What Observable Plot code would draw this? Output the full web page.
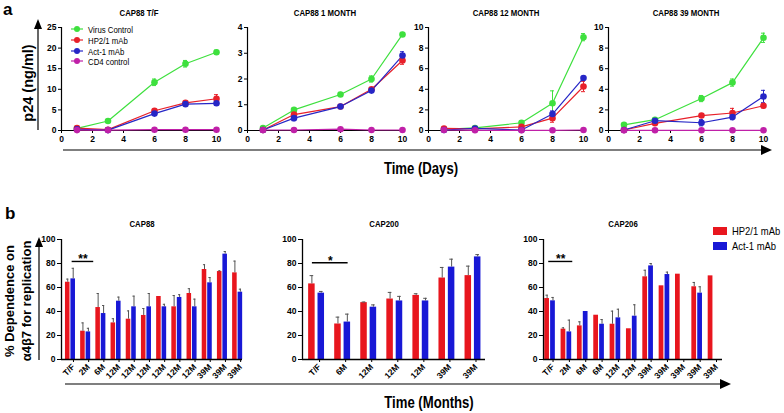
<!DOCTYPE html>
<html><head><meta charset="utf-8">
<script src="https://cdn.jsdelivr.net/npm/d3@7"></script>
<script src="https://cdn.jsdelivr.net/npm/@observablehq/plot@0.6"></script>
<style>
body{margin:0;background:#fff;}
#root{position:relative;width:784px;height:413px;overflow:hidden;background:#fff;}
.t{position:absolute;white-space:nowrap;color:#000;line-height:1;}
</style></head>
<body><div id="root"></div>
<script>
// ---------- data: panel a (p24 ng/ml vs days) ----------
const days = [1, 3, 6, 8, 10];
const dayTicks = [0, 2, 4, 6, 8, 10];
const seriesNames = ["Virus Control", "HP2/1 mAb", "Act-1 mAb", "CD4 control"];
const panelTitles = ["CAP88 T/F", "CAP88 1 MONTH", "CAP88 12 MONTH", "CAP88 39 MONTH"];
const panelYMax = [25, 4, 10, 10];
const panelYTicks = [[0, 5, 10, 15, 20, 25], [0, 1, 2, 3, 4], [0, 2, 4, 6, 8, 10], [0, 2, 4, 6, 8, 10]];

const p24TF = [[0.5, 2.3, 11.7, 16.2, 19.0], [0.6, 0.2, 4.8, 6.7, 7.7], [0.3, 0.1, 4.1, 6.4, 6.6], [0.1, 0.1, 0.2, 0.2, 0.2]];
const p24TFErr = [[0.1, 0.3, 0.8, 0.8, 0.5], [0.2, 0.1, 0.3, 0.3, 1.0], [0.1, 0.1, 0.3, 0.3, 0.5], [0.05, 0.05, 0.05, 0.05, 0.05]];
const p24M1 = [[0.1, 0.8, 1.4, 2.0, 3.73], [0.02, 0.62, 0.93, 1.6, 2.72], [0.02, 0.48, 0.93, 1.55, 2.91], [0.02, 0.02, 0.05, 0.02, 0.02]];
const p24M1Err = [[0.03, 0.06, 0.08, 0.12, 0.08], [0.02, 0.05, 0.03, 0.05, 0.15], [0.02, 0.1, 0.03, 0.05, 0.15], [0.01, 0.01, 0.02, 0.01, 0.01]];
const p24M12 = [[0.1, 0.25, 0.75, 2.65, 9.06], [0.2, 0.15, 0.35, 1.2, 4.27], [0.05, 0.2, 0.05, 1.6, 5.1], [0.05, 0.02, 0.02, 0.02, 0.05]];
const p24M12Err = [[0.1, 0.1, 0.1, 1.2, 0.35], [0.1, 0.05, 0.1, 0.4, 0.5], [0.05, 0.05, 0.05, 0.3, 0.15], [0.02, 0.02, 0.02, 0.02, 0.02]];
const p24M39 = [[0.55, 1.05, 3.1, 4.65, 9.0], [0.05, 0.7, 1.45, 1.7, 2.4], [0.05, 0.95, 0.75, 1.3, 3.3], [0.02, 0.02, 0.02, 0.02, 0.02]];
const p24M39Err = [[0.1, 0.1, 0.3, 0.35, 0.45], [0.05, 0.1, 0.1, 0.45, 0.2], [0.05, 0.1, 0.3, 0.25, 0.6], [0.02, 0.02, 0.02, 0.02, 0.02]];

// ---------- data: panel b (% dependence on a4b7) ----------
const mabNames = ["HP2/1 mAb", "Act-1 mAb"];
const pctTicks = [0, 20, 40, 60, 80, 100];

const cap88Labels = ["T/F", "2M", "6M", "12M", "12M", "12M", "12M", "12M", "12M", "39M", "39M", "39M"];
const cap88HP = [64.4, 23.6, 43.3, 30.5, 33.6, 36.7, 52.5, 43.9, 55.0, 75.0, 73.3, 72.2];
const cap88HPErr = [2.6, 6.9, 11.7, 3.5, 6.9, 5.8, 0, 9.4, 4.0, 4.0, 0.6, 9.8];
const cap88Act = [67.2, 23.0, 38.3, 48.6, 43.9, 43.9, 43.9, 51.7, 43.9, 63.9, 87.8, 56.1];
const cap88ActErr = [8.8, 3.0, 6.7, 3.4, 8.9, 11.1, 2.1, 2.3, 6.4, 4.4, 2.2, 2.5];

const cap200Labels = ["T/F", "6M", "12M", "12M", "12M", "39M", "39M"];
const cap200HP = [63.0, 29.6, 47.4, 50.4, 53.4, 67.9, 69.9];
const cap200HPErr = [6.9, 5.7, 0.5, 5.5, 1.4, 8.8, 7.9];
const cap200Act = [55.3, 31.2, 43.6, 48.8, 48.8, 77.0, 85.5];
const cap200ActErr = [1.4, 6.6, 1.9, 3.8, 2.2, 6.6, 1.9];

const cap206Labels = ["T/F", "2M", "6M", "6M", "12M", "12M", "39M", "39M", "39M", "39M", "39M"];
const cap206HP = [50.8, 25.3, 28.0, 36.9, 29.4, 25.6, 68.9, 61.4, 71.1, 60.6, 69.7];
const cap206HPErr = [2.8, 1.1, 3.4, 0, 10.9, 0, 5.5, 0, 0, 3.6, 0];
const cap206Act = [48.9, 23.0, 40.0, 29.4, 34.7, 36.1, 78.0, 70.8, null, 55.3, null];
const cap206ActErr = [2.8, 9.8, 0, 3.9, 7.2, 9.5, 2.0, 2.0, null, 5.3, null];

// significance brackets: from category index, to category index, level, label
const sig88 = [{from: 0.11, to: 1.53, y: 81.7, label: "**"}];
const sig200 = [{from: -0.16, to: 1.21, y: 80.6, label: "*"}];
const sig206 = [{from: -0.08, to: 1.39, y: 81.7, label: "**"}];

// ---------- styles ----------
const seriesColors = ["#3ee03e", "#e8202a", "#2626c6", "#c020a8"];
const mabColors = ["#e8161e", "#1818d6"];
const FR = '"Liberation Sans",Arial,sans-serif';
const SQ = 0.82; // horizontal compression of the reference lettering

const root = document.getElementById("root");
function place(el, left, top, w) {
  const d = document.createElement("div");
  d.style.cssText = `position:absolute;left:${left}px;top:${top}px;width:${w}px;`;
  d.appendChild(el);
  root.appendChild(d);
}
function text(str, css) {
  const d = document.createElement("div");
  d.className = "t";
  d.textContent = str;
  d.style.cssText += css;
  root.appendChild(d);
  return d;
}
const baseStyle = {background: "transparent", overflow: "visible", fontFamily: FR, fontSize: "8.5px", fontWeight: "bold", color: "#000"};

// ---------- panel a ----------
function p24Panel(k, vals, errs, x0) {
  const rows = [];
  vals.forEach((arr, s) => arr.forEach((v, j) => rows.push({day: days[j], v, e: errs[s][j], s: seriesNames[s]})));
  const ML = 32, MR = 8, W = 155, H = 150;
  const chart = Plot.plot({
    width: ML + W + MR, height: H, marginLeft: ML, marginRight: MR, marginTop: 27, marginBottom: 20,
    x: {domain: [0, 10]}, y: {domain: [0, panelYMax[k]]},
    color: {domain: seriesNames, range: seriesColors},
    style: baseStyle,
    marks: [
      Plot.ruleY([0], {stroke: "#000", strokeWidth: 1.2}),
      Plot.ruleX([0], {stroke: "#000", strokeWidth: 1.2}),
      Plot.axisX({ticks: dayTicks, tickSize: 3, tickPadding: 2, label: null, tickFormat: d => d}),
      Plot.axisY({ticks: panelYTicks[k], tickSize: 3, tickPadding: 2, label: null, tickFormat: d => d}),
      Plot.ruleX(rows, {x: "day", y1: d => Math.max(0, d.v - d.e), y2: d => d.v + d.e, stroke: "s"}),
      Plot.ruleY(rows, {y: d => d.v + d.e, x1: d => d.day - 0.13, x2: d => d.day + 0.13, stroke: "s"}),
      Plot.ruleY(rows, {y: d => Math.max(0, d.v - d.e), x1: d => d.day - 0.13, x2: d => d.day + 0.13, stroke: "s"}),
      Plot.line(rows, {x: "day", y: "v", z: "s", stroke: "s", strokeWidth: 1.2}),
      Plot.dot(rows, {x: "day", y: "v", fill: "s", r: 3.3})
    ]
  });
  place(chart, x0 - ML, 0, ML + W + MR);
  text(panelTitles[k], `left:${x0 + W / 2}px;top:12px;font:bold 9.5px ${FR};transform:translate(-50%,-50%) scaleX(${SQ});`);
}
p24Panel(0, p24TF, p24TFErr, 61);
p24Panel(1, p24M1, p24M1Err, 247);
p24Panel(2, p24M12, p24M12Err, 428);
p24Panel(3, p24M39, p24M39Err, 608);

// legend panel a
seriesNames.forEach((name, i) => {
  const y = 29.3 + i * 10.7;
  const ns = "http://www.w3.org/2000/svg";
  const svg = document.createElementNS(ns, "svg");
  svg.setAttribute("width", 16); svg.setAttribute("height", 8);
  svg.innerHTML = `<line x1="1" x2="13" y1="4" y2="4" stroke="${seriesColors[i]}" stroke-width="1.2"/><circle cx="7" cy="4" r="3" fill="${seriesColors[i]}"/>`;
  svg.style.cssText = `position:absolute;left:70px;top:${y - 4}px;`;
  root.appendChild(svg);
  text(name, `left:88px;top:${y}px;font:9.5px ${FR};transform-origin:0 0;transform:scaleX(${SQ}) translateY(-50%);`);
});

// ---------- panel b ----------
function barPanel(title, labels, hp, hpErr, act, actErr, sig, axisX, width, lo, hi, bw) {
  const rows = [];
  labels.forEach((lab, i) => {
    [[hp, hpErr], [act, actErr]].forEach(([vals, errs], m) => {
      if (vals[i] != null) rows.push({i, c: i + (m === 0 ? -0.18 : 0.18), v: vals[i], e: errs[i], m: mabNames[m]});
    });
  });
  const ML = 35, MR = 6, H = 189;
  const errRows = rows.filter(d => d.e > 0);
  const chart = Plot.plot({
    width: ML + width + MR, height: H, marginLeft: ML, marginRight: MR, marginTop: 39, marginBottom: 30,
    x: {domain: [lo, hi]}, y: {domain: [0, 100]},
    color: {domain: mabNames, range: mabColors},
    style: baseStyle,
    marks: [
      Plot.rectY(rows, {x1: d => d.c - bw / 2, x2: d => d.c + bw / 2, y: "v", fill: "m"}),
      Plot.ruleX(errRows, {x: "c", y1: "v", y2: d => d.v + d.e, stroke: "#555", strokeWidth: 1}),
      Plot.ruleY(errRows, {y: d => d.v + d.e, x1: d => d.c - 0.07, x2: d => d.c + 0.07, stroke: "#555", strokeWidth: 1}),
      Plot.ruleX([lo], {stroke: "#000", strokeWidth: 1.3}),
      Plot.ruleY([0], {stroke: "#000", strokeWidth: 1.3}),
      Plot.axisY({ticks: pctTicks, tickSize: 4, tickPadding: 2, label: null, tickFormat: d => d}),
      Plot.axisX({ticks: d3.range(labels.length), tickFormat: i => labels[i], tickRotate: -45, tickSize: 3, tickPadding: 3, label: null, dx: 3, fontSize: 8.5}),
      Plot.ruleY(sig, {y: "y", x1: "from", x2: "to", stroke: "#000", strokeWidth: 1.4}),
      Plot.text(sig, {x: d => (d.from + d.to) / 2, y: "y", text: "label", lineAnchor: "bottom", dy: 2, fontSize: 12, fontWeight: "bold"})
    ]
  });
  place(chart, axisX - ML, 200, ML + width + MR);
  text(title, `left:${axisX + width / 2 - 10}px;top:223px;font:bold 9.5px ${FR};transform:translate(-50%,-50%) scaleX(${SQ});`);
}
barPanel("CAP88", cap88Labels, cap88HP, cap88HPErr, cap88Act, cap88ActErr, sig88, 61, 181, -0.59, 11.32, 0.30);
barPanel("CAP200", cap200Labels, cap200HP, cap200HPErr, cap200Act, cap200ActErr, sig200, 302, 183, -0.54, 6.48, 0.25);
barPanel("CAP206", cap206Labels, cap206HP, cap206HPErr, cap206Act, cap206ActErr, sig206, 543, 179, -0.40, 10.55, 0.29);

// legend panel b
mabNames.forEach((name, i) => {
  const y = 230.5 + i * 15.5;
  const sw = document.createElement("div");
  sw.style.cssText = `position:absolute;left:713px;top:${y - 4}px;width:14px;height:8px;background:${mabColors[i]};`;
  root.appendChild(sw);
  text(name, `left:732px;top:${y}px;font:11.5px ${FR};transform-origin:0 0;transform:scaleX(${SQ}) translateY(-50%);`);
});

// ---------- labels ----------
text("a", `left:3px;top:0px;font:bold 17px ${FR};`);
text("b", `left:5px;top:204px;font:bold 17px ${FR};`);
text("p24 (ng/ml)", `left:28px;top:83px;font:bold 14.5px ${FR};transform:translate(-50%,-50%) rotate(-90deg);`);
text("% Dependence on", `left:9px;top:301px;font:bold 13px ${FR};transform:translate(-50%,-50%) rotate(-90deg);`);
text("α4β7 for replication", `left:26px;top:301px;font:bold 13px ${FR};transform:translate(-50%,-50%) rotate(-90deg);`);
text("Time (Days)", `left:421px;top:169px;font:bold 16px ${FR};transform:translate(-50%,-50%) scaleX(${SQ});`);
text("Time (Months)", `left:429px;top:403px;font:bold 16px ${FR};transform:translate(-50%,-50%) scaleX(${SQ});`);

// ---------- axis arrows (decoration) ----------
const arr = document.createElementNS("http://www.w3.org/2000/svg", "svg");
arr.setAttribute("width", 784); arr.setAttribute("height", 413);
arr.style.cssText = "position:absolute;left:0;top:0;pointer-events:none;";
arr.innerHTML = `
<g stroke="#000" stroke-width="1.2" fill="none">
  <line x1="38" y1="130" x2="38" y2="27"/>
  <line x1="63" y1="150" x2="763" y2="150"/>
  <line x1="39" y1="360" x2="39" y2="245"/>
  <line x1="65" y1="384" x2="723" y2="384"/>
</g>
<g fill="#000">
  <polygon points="38,19 34,29 42,29"/>
  <polygon points="772,150 761,145 761,155"/>
  <polygon points="39,237 35,247 43,247"/>
  <polygon points="731,384 720,379 720,389"/>
</g>`;
root.appendChild(arr);
</script>
</body></html>
